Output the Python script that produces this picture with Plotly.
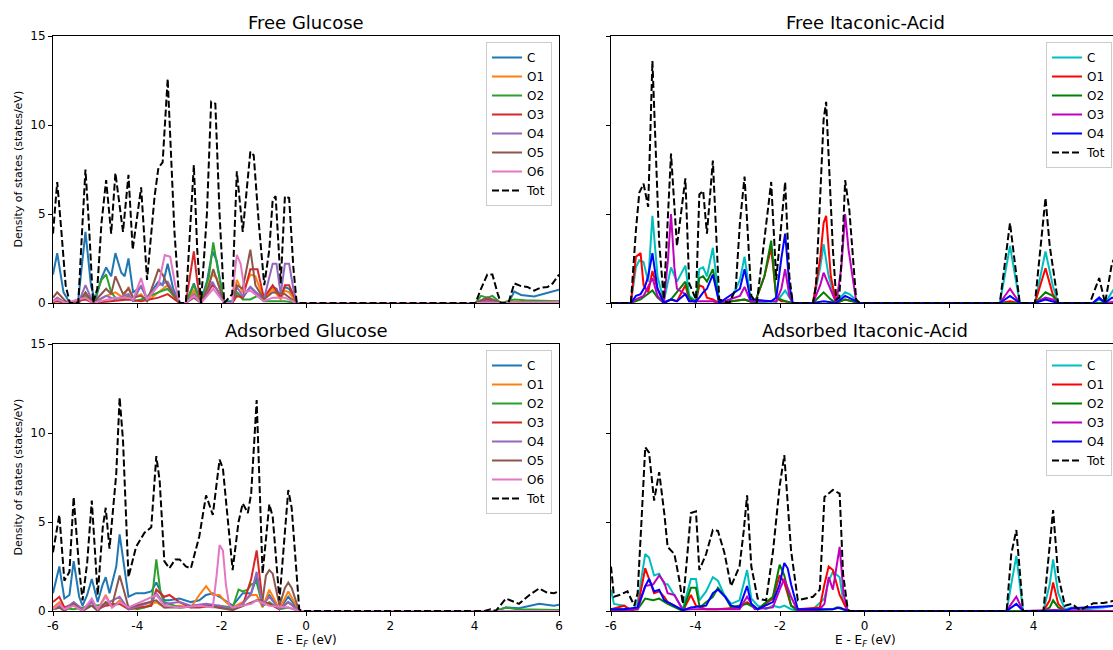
import plotly.graph_objects as go

# ---------------- DATA (E - E_F in eV, DOS in states/eV) ----------------
glucose_names = ["C", "O1", "O2", "O3", "O4", "O5", "O6"]
itaconic_names = ["C", "O1", "O2", "O3", "O4"]
panel_titles = ["Free Glucose", "Free Itaconic-Acid", "Adsorbed Glucose", "Adsorbed Itaconic-Acid"]
x_ticks = [-6, -4, -2, 0, 2, 4, 6]
y_ticks = [0, 5, 10, 15]

# Free glucose
fg_C = [(-6.0,1.6),(-5.9,2.8),(-5.75,0.6),(-5.6,0.0),(-5.4,0.2),(-5.23,4.0),(-5.1,1.0),(-5.0,0.1),(-4.85,1.4),(-4.74,2.0),(-4.62,1.5),(-4.52,2.8),(-4.38,1.7),(-4.3,1.5),(-4.21,2.5),(-4.1,0.6),(-3.91,0.9),(-3.77,0.3),(-3.5,1.2),(-3.4,1.0),(-3.28,2.2),(-3.15,0.8),(-3.0,0.0),(-2.85,0.0),(-2.66,1.1),(-2.5,0.1),(-2.35,1.2),(-2.22,2.9),(-2.12,2.4),(-1.95,0.1),(-1.75,0.1),(-1.64,0.6),(-1.5,0.3),(-1.32,0.9),(-1.2,0.6),(-1.0,0.2),(-0.79,0.9),(-0.7,0.8),(-0.6,0.3),(-0.5,0.9),(-0.4,0.8),(-0.22,0.0),(4.02,0.0),(4.3,0.3),(4.62,0.0),(4.8,0.0),(4.94,0.64),(5.1,0.45),(5.41,0.37),(5.73,0.55),(6.0,0.74)]
fg_O1 = [(-6.0,0.1),(-5.9,0.3),(-5.7,0.0),(-5.4,0.0),(-5.23,0.5),(-5.05,0.0),(-4.74,0.4),(-4.52,0.6),(-4.34,0.3),(-4.21,0.9),(-4.1,0.3),(-3.91,0.5),(-3.77,0.1),(-3.5,0.6),(-3.28,1.0),(-3.0,0.0),(-2.85,0.0),(-2.66,0.7),(-2.49,0.0),(-2.22,1.6),(-2.12,1.4),(-1.94,0.0),(-1.75,0.0),(-1.64,1.3),(-1.5,0.6),(-1.32,1.6),(-1.2,1.5),(-1.0,0.2),(-0.79,0.8),(-0.6,0.2),(-0.5,0.7),(-0.4,0.6),(-0.22,0.0),(4.02,0.0),(4.3,0.1),(4.62,0.0),(4.94,0.05),(6.0,0.1)]
fg_O2 = [(-6.0,0.1),(-5.9,0.2),(-5.7,0.0),(-5.4,0.0),(-5.23,0.4),(-5.05,0.0),(-4.85,1.3),(-4.74,1.6),(-4.62,0.6),(-4.52,0.3),(-4.34,0.2),(-4.21,0.4),(-4.1,0.1),(-3.91,0.2),(-3.5,0.6),(-3.28,0.8),(-3.0,0.0),(-2.85,0.0),(-2.66,1.0),(-2.49,0.0),(-2.3,1.5),(-2.2,3.4),(-2.1,2.0),(-1.94,0.0),(-1.75,0.0),(-1.64,0.6),(-1.5,0.2),(-1.32,0.2),(-1.15,0.4),(-1.0,0.1),(-0.79,0.1),(-0.5,0.1),(-0.22,0.0),(4.02,0.0),(4.15,0.4),(4.3,0.3),(4.42,0.4),(4.62,0.0),(4.94,0.2),(5.2,0.15),(6.0,0.1)]
fg_O3 = [(-6.0,0.05),(-5.9,0.1),(-5.7,0.0),(-5.23,0.2),(-5.05,0.0),(-4.52,0.1),(-4.21,0.2),(-3.91,0.1),(-3.5,0.3),(-3.28,0.5),(-3.0,0.0),(-2.85,0.0),(-2.75,1.5),(-2.66,2.9),(-2.58,1.2),(-2.49,0.0),(-2.22,1.0),(-2.12,0.8),(-1.94,0.0),(-1.75,0.0),(-1.64,0.4),(-1.5,0.3),(-1.32,1.9),(-1.15,1.9),(-1.0,0.3),(-0.79,1.0),(-0.6,0.3),(-0.5,1.0),(-0.4,1.0),(-0.22,0.0),(4.02,0.0),(4.3,0.2),(4.62,0.0),(6.0,0.05)]
fg_O4 = [(-6.0,0.1),(-5.9,0.3),(-5.7,0.0),(-5.4,0.0),(-5.23,1.0),(-5.05,0.0),(-4.74,0.4),(-4.52,0.2),(-4.21,0.5),(-4.1,0.1),(-3.91,1.0),(-3.77,0.2),(-3.5,1.0),(-3.28,1.2),(-3.0,0.0),(-2.85,0.0),(-2.66,0.5),(-2.49,0.0),(-2.22,1.2),(-1.94,0.0),(-1.75,0.0),(-1.64,0.9),(-1.5,0.4),(-1.32,0.9),(-1.0,0.2),(-0.87,1.5),(-0.79,2.2),(-0.7,2.2),(-0.6,0.5),(-0.5,2.2),(-0.4,2.2),(-0.3,0.8),(-0.22,0.0),(4.02,0.0),(4.3,0.1),(4.62,0.0),(6.0,0.05)]
fg_O5 = [(-6.0,0.3),(-5.9,0.6),(-5.7,0.1),(-5.4,0.0),(-5.23,0.6),(-5.05,0.0),(-4.74,0.8),(-4.62,0.5),(-4.52,1.5),(-4.34,0.5),(-4.21,0.8),(-4.1,0.3),(-3.91,0.4),(-3.77,0.1),(-3.6,1.2),(-3.5,1.9),(-3.4,1.6),(-3.28,1.0),(-3.0,0.0),(-2.85,0.0),(-2.66,0.3),(-2.49,0.0),(-2.3,1.0),(-2.2,1.9),(-2.1,1.2),(-1.94,0.0),(-1.75,0.0),(-1.64,1.0),(-1.5,0.8),(-1.32,3.0),(-1.2,1.0),(-1.0,0.2),(-0.79,0.6),(-0.5,0.5),(-0.22,0.0),(4.02,0.0),(4.3,0.3),(4.62,0.0),(6.0,0.05)]
fg_O6 = [(-6.0,0.1),(-5.9,0.2),(-5.7,0.0),(-5.23,0.3),(-5.05,0.0),(-4.52,0.3),(-4.21,0.3),(-4.1,0.2),(-3.91,1.4),(-3.77,0.2),(-3.5,1.0),(-3.35,2.7),(-3.22,2.6),(-3.1,1.0),(-3.0,0.0),(-2.85,0.0),(-2.66,0.4),(-2.49,0.0),(-2.2,0.8),(-1.94,0.0),(-1.75,0.0),(-1.7,1.5),(-1.64,2.7),(-1.55,2.2),(-1.45,0.6),(-1.32,0.7),(-1.0,0.1),(-0.79,0.3),(-0.5,0.3),(-0.22,0.0),(4.02,0.0),(6.0,0.05)]
fg_Tot = [(-6.0,3.9),(-5.9,6.8),(-5.8,4.0),(-5.7,1.0),(-5.6,0.0),(-5.4,0.0),(-5.3,4.5),(-5.23,7.5),(-5.15,4.5),(-5.05,0.0),(-4.95,0.8),(-4.85,4.5),(-4.74,6.9),(-4.62,3.9),(-4.52,7.3),(-4.34,4.0),(-4.21,7.2),(-4.11,3.0),(-3.91,6.5),(-3.77,1.3),(-3.59,6.0),(-3.5,7.6),(-3.4,7.9),(-3.28,12.6),(-3.12,4.0),(-3.0,0.0),(-2.85,0.0),(-2.75,4.0),(-2.66,7.75),(-2.58,3.0),(-2.49,0.0),(-2.35,5.0),(-2.25,11.3),(-2.15,11.2),(-2.05,5.0),(-1.94,0.0),(-1.75,0.5),(-1.64,7.4),(-1.5,4.0),(-1.32,8.5),(-1.24,8.3),(-1.12,4.5),(-0.99,1.0),(-0.87,3.0),(-0.79,5.8),(-0.72,6.0),(-0.6,1.1),(-0.5,6.0),(-0.4,5.9),(-0.3,2.0),(-0.22,0.0),(4.02,0.0),(4.15,0.8),(4.3,1.6),(4.42,1.6),(4.55,0.5),(4.62,0.0),(4.8,0.0),(4.94,1.1),(5.1,0.95),(5.25,0.9),(5.41,0.7),(5.55,0.85),(5.73,0.9),(5.85,1.1),(6.0,1.6)]

# Free itaconic acid
fi_C = [(-6.0,0.0),(-5.53,0.0),(-5.41,2.0),(-5.33,2.4),(-5.23,2.3),(-5.12,1.2),(-5.02,4.9),(-4.9,1.5),(-4.75,0.1),(-4.58,2.0),(-4.44,1.2),(-4.24,2.1),(-4.15,0.4),(-3.99,0.1),(-3.91,1.9),(-3.82,2.0),(-3.73,1.5),(-3.59,3.1),(-3.44,0.1),(-3.2,0.0),(-2.95,1.3),(-2.84,2.6),(-2.7,0.3),(-2.55,0.0),(-2.21,0.1),(-2.09,0.05),(-1.88,0.7),(-1.7,0.0),(-1.22,0.0),(-1.05,2.0),(-0.97,3.3),(-0.85,1.5),(-0.67,0.05),(-0.46,0.6),(-0.36,0.5),(-0.12,0.0),(3.2,0.0),(3.44,3.2),(3.67,0.0),(4.03,0.0),(4.28,2.9),(4.45,1.0),(4.58,0.0),(5.4,0.0),(5.55,0.2),(5.69,0.0),(5.85,0.6),(6.0,1.2)]
fi_O1 = [(-6.0,0.0),(-5.53,0.0),(-5.41,2.6),(-5.3,2.8),(-5.23,1.0),(-5.12,0.6),(-5.02,1.8),(-4.9,0.8),(-4.75,0.05),(-4.58,0.2),(-4.44,0.1),(-4.24,1.0),(-4.15,0.2),(-3.99,0.05),(-3.91,1.0),(-3.82,0.9),(-3.73,0.3),(-3.59,0.2),(-3.44,0.0),(-2.84,0.2),(-2.6,0.0),(-2.37,1.5),(-2.21,3.1),(-2.09,0.3),(-1.97,0.1),(-1.88,0.1),(-1.7,0.0),(-1.22,0.0),(-1.05,2.5),(-0.97,4.5),(-0.91,4.9),(-0.8,1.5),(-0.67,0.0),(-0.46,0.2),(-0.12,0.0),(3.2,0.0),(3.44,0.1),(3.67,0.0),(4.03,0.0),(4.28,1.95),(4.45,0.5),(4.58,0.0),(6.0,0.0)]
fi_O2 = [(-6.0,0.0),(-5.53,0.0),(-5.3,0.2),(-5.02,0.7),(-4.9,0.3),(-4.75,0.0),(-4.58,0.2),(-4.24,1.2),(-4.15,0.3),(-3.99,0.05),(-3.91,1.4),(-3.82,1.5),(-3.73,1.2),(-3.59,1.9),(-3.44,0.0),(-2.84,0.2),(-2.6,0.0),(-2.37,1.5),(-2.21,3.5),(-2.09,0.3),(-1.88,0.1),(-1.7,0.0),(-1.22,0.0),(-0.97,0.6),(-0.8,0.2),(-0.67,0.0),(-0.46,0.2),(-0.12,0.0),(4.03,0.0),(4.28,0.6),(4.45,0.4),(4.58,0.0),(6.0,0.0)]
fi_O3 = [(-6.0,0.0),(-5.53,0.0),(-5.41,0.2),(-5.23,0.4),(-5.02,1.4),(-4.9,0.4),(-4.75,0.0),(-4.65,2.5),(-4.58,5.0),(-4.5,2.0),(-4.44,0.8),(-4.24,0.5),(-4.15,0.1),(-3.91,0.1),(-3.59,0.1),(-3.44,0.0),(-2.95,0.4),(-2.84,0.9),(-2.7,0.1),(-2.21,0.1),(-2.09,0.1),(-1.97,0.8),(-1.88,1.9),(-1.78,0.4),(-1.7,0.0),(-1.22,0.0),(-1.05,1.0),(-0.97,1.7),(-0.85,1.0),(-0.67,0.0),(-0.55,2.0),(-0.46,5.0),(-0.38,3.0),(-0.2,0.1),(-0.12,0.0),(3.2,0.0),(3.44,0.8),(3.67,0.0),(4.03,0.0),(4.28,0.3),(4.45,0.2),(4.58,0.0),(5.4,0.0),(5.55,0.3),(5.69,0.0),(6.0,0.1)]
fi_O4 = [(-6.0,0.0),(-5.53,0.0),(-5.41,0.4),(-5.3,0.5),(-5.2,0.9),(-5.12,1.5),(-5.02,2.8),(-4.9,0.8),(-4.75,0.0),(-4.58,0.2),(-4.44,0.1),(-4.24,0.5),(-4.15,0.1),(-3.99,0.1),(-3.91,0.3),(-3.82,0.6),(-3.73,0.8),(-3.59,1.6),(-3.44,0.0),(-2.95,0.8),(-2.84,1.9),(-2.7,0.2),(-2.21,0.1),(-2.09,0.3),(-1.97,2.5),(-1.88,3.9),(-1.78,1.0),(-1.7,0.0),(-1.22,0.0),(-0.97,0.1),(-0.67,0.0),(-0.46,0.4),(-0.12,0.0),(3.2,0.0),(3.44,0.4),(3.67,0.0),(4.03,0.0),(4.28,0.2),(4.58,0.0),(5.4,0.0),(5.55,0.3),(5.69,0.0),(5.85,0.3),(6.0,0.3)]
fi_Tot = [(-6.0,0.0),(-5.53,0.0),(-5.41,4.1),(-5.33,6.2),(-5.23,6.7),(-5.12,5.4),(-5.02,13.6),(-4.94,8.6),(-4.86,3.4),(-4.75,0.2),(-4.58,8.4),(-4.44,3.2),(-4.24,7.0),(-4.15,1.1),(-3.99,0.2),(-3.91,6.1),(-3.82,6.3),(-3.73,3.9),(-3.59,8.0),(-3.44,0.2),(-3.2,0.0),(-3.05,0.8),(-2.95,4.5),(-2.84,7.1),(-2.75,3.0),(-2.68,0.4),(-2.55,0.0),(-2.4,3.0),(-2.3,5.0),(-2.21,6.8),(-2.09,1.3),(-1.97,4.2),(-1.88,6.8),(-1.78,1.5),(-1.7,0.0),(-1.22,0.0),(-1.15,1.0),(-1.05,6.0),(-0.97,10.3),(-0.91,11.3),(-0.85,8.5),(-0.75,3.0),(-0.67,0.2),(-0.6,0.3),(-0.52,3.5),(-0.46,6.9),(-0.36,5.2),(-0.2,0.2),(-0.12,0.0),(3.2,0.0),(3.44,4.5),(3.67,0.0),(4.03,0.0),(4.28,5.9),(4.38,3.2),(4.58,0.0),(5.33,0.0),(5.55,1.4),(5.69,0.0),(5.85,2.2),(6.0,3.0)]

# Adsorbed glucose
ag_C = [(-6.0,1.0),(-5.85,2.5),(-5.73,0.7),(-5.61,0.9),(-5.51,2.8),(-5.38,0.8),(-5.3,0.3),(-5.19,0.9),(-5.08,1.8),(-4.94,0.5),(-4.82,1.5),(-4.75,1.9),(-4.66,1.0),(-4.5,2.5),(-4.42,4.3),(-4.34,3.0),(-4.21,0.8),(-4.03,1.0),(-3.83,1.0),(-3.67,1.1),(-3.55,1.6),(-3.47,1.2),(-3.36,0.6),(-3.24,0.6),(-3.0,0.7),(-2.73,0.5),(-2.53,0.6),(-2.37,0.9),(-2.21,1.0),(-2.05,0.8),(-1.74,0.3),(-1.5,1.0),(-1.3,1.0),(-1.17,1.9),(-1.03,0.3),(-0.87,0.9),(-0.63,0.1),(-0.42,0.8),(-0.16,0.0),(4.23,0.0),(4.5,0.0),(4.74,0.2),(5.05,0.15),(5.53,0.4),(5.88,0.3),(6.0,0.35)]
ag_O1 = [(-6.0,0.2),(-5.85,0.5),(-5.73,0.1),(-5.51,0.3),(-5.3,0.0),(-5.08,0.6),(-4.94,0.1),(-4.75,0.9),(-4.6,0.2),(-4.42,0.6),(-4.21,0.1),(-3.83,0.2),(-3.55,0.5),(-3.36,0.2),(-3.0,0.3),(-2.73,0.2),(-2.53,0.9),(-2.37,1.4),(-2.21,0.9),(-2.05,0.9),(-1.9,0.5),(-1.74,0.2),(-1.5,0.5),(-1.3,0.9),(-1.17,0.9),(-1.03,0.2),(-0.87,1.2),(-0.63,0.1),(-0.42,1.1),(-0.16,0.0),(6.0,0.0)]
ag_O2 = [(-6.0,0.1),(-5.85,0.2),(-5.51,0.1),(-5.08,0.3),(-4.42,0.4),(-4.0,0.1),(-3.67,0.3),(-3.55,2.9),(-3.45,1.0),(-3.36,0.5),(-3.0,0.2),(-2.37,0.3),(-2.05,0.3),(-1.74,0.2),(-1.6,1.2),(-1.5,1.1),(-1.38,1.2),(-1.3,1.5),(-1.17,1.6),(-1.03,0.3),(-0.87,0.5),(-0.63,0.1),(-0.42,0.2),(-0.16,0.0),(4.5,0.0),(4.74,0.2),(5.0,0.1),(6.0,0.05)]
ag_O3 = [(-6.0,0.5),(-5.85,0.8),(-5.73,0.2),(-5.51,0.4),(-5.3,0.1),(-5.08,0.5),(-4.94,0.1),(-4.75,0.3),(-4.42,0.4),(-4.21,0.1),(-3.67,0.3),(-3.55,1.2),(-3.36,0.8),(-3.24,0.9),(-3.0,0.5),(-2.73,0.2),(-2.53,0.2),(-2.21,0.3),(-1.74,0.1),(-1.5,0.3),(-1.3,1.8),(-1.17,3.4),(-1.03,0.5),(-0.87,0.4),(-0.63,0.1),(-0.42,0.5),(-0.16,0.0),(6.0,0.0)]
ag_O4 = [(-6.0,0.1),(-5.85,0.3),(-5.73,0.1),(-5.51,0.5),(-5.3,0.1),(-5.08,0.5),(-4.94,0.1),(-4.75,0.4),(-4.42,0.8),(-4.21,0.1),(-3.67,0.5),(-3.55,1.0),(-3.36,0.4),(-3.0,0.5),(-2.73,0.3),(-2.37,0.4),(-2.05,0.3),(-1.74,0.1),(-1.5,0.4),(-1.3,1.0),(-1.17,2.2),(-1.03,0.3),(-0.87,0.8),(-0.63,0.1),(-0.42,0.5),(-0.16,0.0),(6.0,0.0)]
ag_O5 = [(-6.0,0.1),(-5.85,0.2),(-5.73,0.0),(-5.51,0.4),(-5.3,0.0),(-5.08,0.3),(-4.94,0.0),(-4.75,0.5),(-4.6,0.3),(-4.42,2.0),(-4.3,1.0),(-4.21,0.2),(-3.55,0.6),(-3.36,0.2),(-3.0,0.2),(-2.37,0.3),(-1.74,0.05),(-1.5,0.3),(-1.17,0.6),(-1.03,0.6),(-0.95,2.0),(-0.87,2.3),(-0.79,2.1),(-0.63,0.3),(-0.5,1.3),(-0.42,1.6),(-0.34,1.3),(-0.16,0.0),(6.0,0.0)]
ag_O6 = [(-6.0,0.1),(-5.85,0.4),(-5.73,0.1),(-5.51,0.3),(-5.3,0.0),(-5.08,0.7),(-4.94,0.1),(-4.75,0.8),(-4.6,0.2),(-4.42,0.5),(-4.21,0.2),(-3.83,0.6),(-3.67,0.8),(-3.55,0.9),(-3.36,0.3),(-3.0,0.2),(-2.53,0.3),(-2.21,0.2),(-2.12,2.0),(-2.05,3.7),(-1.97,3.4),(-1.9,1.5),(-1.82,0.3),(-1.74,0.2),(-1.3,0.4),(-1.17,0.6),(-0.87,0.3),(-0.42,0.2),(-0.16,0.0),(6.0,0.0)]
ag_Tot = [(-6.0,3.3),(-5.85,5.4),(-5.73,1.7),(-5.61,2.2),(-5.51,6.4),(-5.38,2.4),(-5.3,0.6),(-5.19,2.7),(-5.08,6.2),(-4.94,0.9),(-4.82,4.7),(-4.75,5.8),(-4.66,3.5),(-4.5,7.7),(-4.42,12.0),(-4.34,9.6),(-4.21,1.9),(-4.03,3.6),(-3.83,4.4),(-3.67,4.7),(-3.55,8.7),(-3.47,7.3),(-3.36,2.8),(-3.24,2.4),(-3.1,2.9),(-3.0,2.9),(-2.85,2.5),(-2.73,2.4),(-2.53,4.2),(-2.37,6.5),(-2.21,5.4),(-2.05,8.5),(-1.97,8.0),(-1.74,2.3),(-1.6,5.0),(-1.5,6.05),(-1.38,5.5),(-1.3,6.6),(-1.17,11.85),(-1.03,2.1),(-0.87,6.0),(-0.79,5.3),(-0.63,0.6),(-0.5,4.5),(-0.42,6.8),(-0.34,5.8),(-0.16,0.1),(-0.1,0.0),(4.23,0.0),(4.38,0.1),(4.5,0.0),(4.74,0.7),(5.05,0.4),(5.3,0.9),(5.53,1.27),(5.7,1.05),(5.88,1.0),(6.0,1.1)]

# Adsorbed itaconic acid
ai_C = [(-6.0,1.2),(-5.93,0.4),(-5.69,0.3),(-5.5,0.0),(-5.37,0.5),(-5.19,3.2),(-5.1,3.0),(-4.98,2.0),(-4.86,2.1),(-4.74,1.5),(-4.66,1.5),(-4.5,0.9),(-4.3,0.1),(-4.11,1.8),(-3.99,1.8),(-3.91,0.6),(-3.75,1.1),(-3.59,1.9),(-3.47,1.7),(-3.32,0.9),(-3.16,0.4),(-2.96,0.6),(-2.78,2.3),(-2.68,0.7),(-2.53,0.3),(-2.33,0.1),(-2.17,0.3),(-2.01,0.2),(-1.9,0.3),(-1.74,0.1),(-1.58,0.0),(-1.22,0.1),(-0.95,0.7),(-0.85,1.7),(-0.75,2.2),(-0.59,1.9),(-0.51,0.6),(-0.4,0.0),(3.36,0.0),(3.47,1.5),(3.59,3.1),(3.75,0.0),(4.23,0.0),(4.38,1.5),(4.46,2.9),(4.58,1.0),(4.74,0.1),(4.9,0.2),(5.1,0.05),(5.41,0.15),(5.65,0.2),(5.88,0.3),(6.0,0.3)]
ai_O1 = [(-6.0,0.1),(-5.69,0.3),(-5.5,0.0),(-5.37,0.2),(-5.19,2.4),(-5.05,1.5),(-4.98,1.0),(-4.86,1.1),(-4.74,0.8),(-4.66,0.5),(-4.5,0.3),(-4.3,0.0),(-4.11,0.9),(-3.99,0.3),(-3.75,0.1),(-3.47,0.1),(-2.96,0.2),(-2.78,0.5),(-2.53,0.1),(-2.17,0.7),(-2.01,2.0),(-1.9,1.6),(-1.74,0.3),(-1.58,0.1),(-1.06,0.2),(-0.95,1.5),(-0.85,2.5),(-0.75,2.3),(-0.59,0.9),(-0.4,0.0),(4.23,0.0),(4.38,0.6),(4.46,1.6),(4.58,0.4),(4.74,0.0),(6.0,0.0)]
ai_O2 = [(-6.0,0.1),(-5.37,0.1),(-5.19,0.7),(-5.0,0.6),(-4.86,0.7),(-4.66,0.4),(-4.3,0.0),(-4.11,1.3),(-3.99,1.3),(-3.9,0.2),(-3.59,0.8),(-3.47,1.3),(-3.3,0.8),(-3.16,0.2),(-2.78,0.4),(-2.53,0.1),(-2.17,0.8),(-2.01,2.6),(-1.9,2.0),(-1.74,0.3),(-1.58,0.0),(-0.75,0.1),(-0.65,0.2),(-0.4,0.0),(4.23,0.0),(4.38,0.2),(4.46,0.6),(4.58,0.2),(4.74,0.0),(6.0,0.0)]
ai_O3 = [(-6.0,0.0),(-5.37,0.1),(-5.19,1.4),(-5.0,1.5),(-4.86,2.0),(-4.74,1.6),(-4.66,1.0),(-4.5,0.9),(-4.3,0.05),(-4.11,0.1),(-2.96,0.1),(-2.78,0.8),(-2.6,0.1),(-2.17,0.2),(-2.01,1.2),(-1.9,1.8),(-1.74,0.8),(-1.58,0.0),(-1.06,0.1),(-0.95,0.4),(-0.85,1.9),(-0.75,1.2),(-0.59,3.6),(-0.5,1.0),(-0.4,0.0),(3.36,0.0),(3.47,0.4),(3.59,0.8),(3.75,0.0),(4.46,0.05),(6.0,0.0)]
ai_O4 = [(-6.0,0.1),(-5.7,0.1),(-5.37,0.2),(-5.19,1.4),(-5.1,1.8),(-4.98,1.1),(-4.86,1.2),(-4.74,0.6),(-4.5,0.3),(-4.3,0.05),(-4.11,0.2),(-3.75,0.3),(-3.59,1.0),(-3.47,1.2),(-3.3,0.8),(-3.16,0.3),(-2.96,0.2),(-2.78,1.4),(-2.68,0.4),(-2.53,0.1),(-2.17,0.5),(-2.01,1.5),(-1.9,2.7),(-1.82,2.4),(-1.74,1.5),(-1.58,0.1),(-1.0,0.1),(-0.75,0.1),(-0.59,0.2),(-0.4,0.0),(3.36,0.0),(3.47,0.2),(3.59,0.4),(3.75,0.0),(4.74,0.0),(4.9,0.15),(5.4,0.2),(5.88,0.25),(6.0,0.3)]
ai_Tot = [(-6.0,2.5),(-5.93,0.8),(-5.8,0.9),(-5.69,1.0),(-5.61,1.1),(-5.45,0.3),(-5.37,1.0),(-5.28,5.0),(-5.19,9.2),(-5.1,8.9),(-4.98,6.2),(-4.86,7.8),(-4.74,5.5),(-4.66,3.6),(-4.5,3.2),(-4.38,1.7),(-4.3,0.4),(-4.2,3.0),(-4.11,5.5),(-3.99,5.6),(-3.91,2.3),(-3.75,3.2),(-3.59,4.55),(-3.47,4.5),(-3.32,3.3),(-3.16,1.4),(-2.96,2.5),(-2.86,4.5),(-2.78,6.5),(-2.68,2.5),(-2.53,0.7),(-2.33,0.6),(-2.17,3.3),(-2.01,7.0),(-1.9,8.76),(-1.74,3.4),(-1.58,0.6),(-1.22,0.8),(-1.06,1.2),(-0.95,6.4),(-0.75,6.8),(-0.59,6.6),(-0.51,2.1),(-0.4,0.1),(-0.35,0.0),(3.36,0.0),(3.47,3.2),(3.59,4.55),(3.75,0.0),(4.23,0.0),(4.38,4.0),(4.46,5.67),(4.58,2.0),(4.74,0.3),(4.9,0.4),(5.1,0.05),(5.41,0.43),(5.65,0.45),(5.88,0.56),(6.0,0.6)]

# ---------------- STYLE ----------------
glucose_colors = ["#1f77b4", "#ff7f0e", "#2ca02c", "#d62728", "#9467bd", "#8c564b", "#e377c2"]
itaconic_colors = ["#00bfbf", "#ff0000", "#008000", "#bf00bf", "#0000ff"]
FONT = "DejaVu Sans"
W, H = 1113, 650


def px_x(p):
    return p / W


def px_y(p):
    return 1 - p / H


panels = [
    dict(series=[fg_C, fg_O1, fg_O2, fg_O3, fg_O4, fg_O5, fg_O6], tot=fg_Tot, names=glucose_names,
         colors=glucose_colors, ax="", xdom=(53, 559), ydom=(36, 303), xmax=6.0, right=False, bottom=False),
    dict(series=[fi_C, fi_O1, fi_O2, fi_O3, fi_O4], tot=fi_Tot, names=itaconic_names,
         colors=itaconic_colors, ax="2", xdom=(611, 1113), ydom=(36, 303), xmax=5.877, right=True, bottom=False),
    dict(series=[ag_C, ag_O1, ag_O2, ag_O3, ag_O4, ag_O5, ag_O6], tot=ag_Tot, names=glucose_names,
         colors=glucose_colors, ax="3", xdom=(53, 559), ydom=(344, 611), xmax=6.0, right=False, bottom=True),
    dict(series=[ai_C, ai_O1, ai_O2, ai_O3, ai_O4], tot=ai_Tot, names=itaconic_names,
         colors=itaconic_colors, ax="4", xdom=(611, 1113), ydom=(344, 611), xmax=5.877, right=True, bottom=True),
]

fig = go.Figure()
layout = dict(template="none", width=W, height=H, margin=dict(l=0, r=0, t=0, b=0, pad=0),
              paper_bgcolor="white", plot_bgcolor="white", showlegend=True,
              font=dict(family=FONT, size=12, color="black"), annotations=[])

for i, p in enumerate(panels):
    legname = "legend" if i == 0 else "legend%d" % (i + 1)
    xa = "x" + p["ax"]
    ya = "y" + p["ax"]
    for s, nm, col in zip(p["series"], p["names"], p["colors"]):
        fig.add_trace(go.Scatter(x=[a for a, b in s], y=[b for a, b in s], mode="lines", name=nm,
                                 line=dict(color=col, width=2), xaxis=xa, yaxis=ya, legend=legname))
    fig.add_trace(go.Scatter(x=[a for a, b in p["tot"]], y=[b for a, b in p["tot"]], mode="lines", name="Tot",
                             line=dict(color="black", width=2, dash="7px,3px"), xaxis=xa, yaxis=ya, legend=legname))

    xkey = "xaxis" + p["ax"]
    ykey = "yaxis" + p["ax"]
    layout[xkey] = dict(domain=[px_x(p["xdom"][0]), px_x(p["xdom"][1])], range=[-6, p["xmax"]],
                        anchor=ya, tickvals=x_ticks, ticktext=[str(v) for v in x_ticks], automargin=False,
                        showticklabels=p["bottom"], ticks="outside", ticklen=4, tickwidth=1, tickcolor="black",
                        showline=True, linecolor="black", linewidth=1, mirror=True,
                        showgrid=False, zeroline=False, tickfont=dict(size=12, family=FONT, color="black"))
    layout[ykey] = dict(domain=[px_y(p["ydom"][1]), px_y(p["ydom"][0])], range=[0, 15],
                        anchor=xa, tickvals=y_ticks, showticklabels=not p["right"], automargin=False,
                        ticks="outside", ticklen=4, tickwidth=1, tickcolor="black",
                        showline=True, linecolor="black", linewidth=1, mirror=not p["right"],
                        showgrid=False, zeroline=False, tickfont=dict(size=12, family=FONT, color="black"))
    right_edge = p["xdom"][1] - 7 if not p["right"] else 1112
    layout[legname] = dict(x=px_x(right_edge), xanchor="right", y=px_y(p["ydom"][0] + 6), yanchor="top",
                           bgcolor="rgba(255,255,255,0.85)", bordercolor="#cccccc", borderwidth=1,
                           font=dict(size=12, family=FONT, color="black"), tracegroupgap=0)
    xc = 865 if p["right"] else (p["xdom"][0] + p["xdom"][1]) / 2
    layout["annotations"].append(dict(text=panel_titles[i], x=px_x(xc), y=px_y(p["ydom"][0] - 14),
                                      xref="paper", yref="paper", showarrow=False, xanchor="center",
                                      yanchor="middle", font=dict(size=18, family=FONT, color="black")))
    if not p["right"]:
        layout["annotations"].append(dict(text="Density of states (states/eV)", x=px_x(18),
                                          y=px_y((p["ydom"][0] + p["ydom"][1]) / 2), xref="paper", yref="paper",
                                          showarrow=False, textangle=-90, xanchor="center", yanchor="middle",
                                          font=dict(size=11, family=FONT, color="black")))
    if p["bottom"]:
        layout["annotations"].append(dict(text="E - E<sub><i>F</i></sub> (eV)", x=px_x(xc), y=px_y(641),
                                          xref="paper", yref="paper", showarrow=False, xanchor="center",
                                          yanchor="middle", font=dict(size=12, family=FONT, color="black")))

fig.update_layout(**layout)
fig.write_html("out.html", config={"displayModeBar": False},
               post_script="document.body.style.margin='0';document.body.style.overflow='hidden';")
